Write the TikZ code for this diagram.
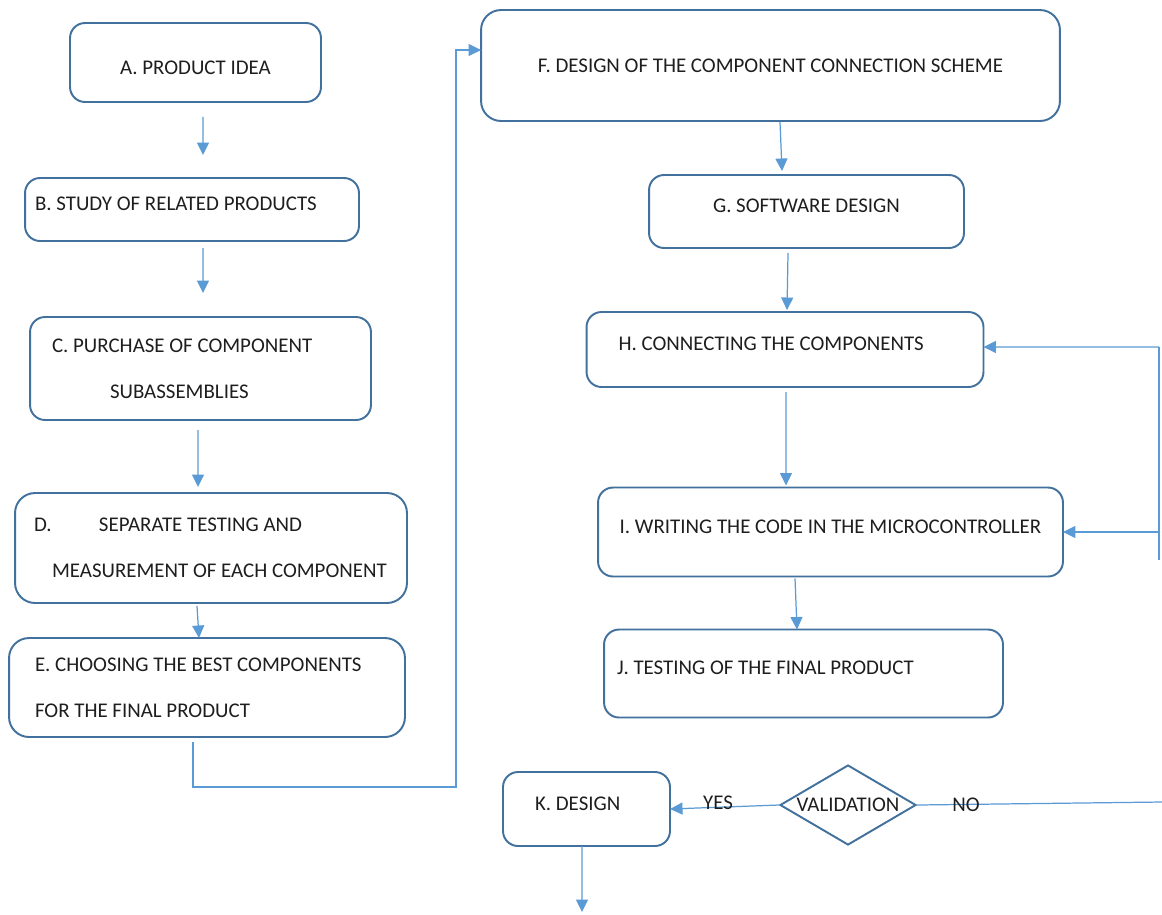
\documentclass[tikz,border=0pt]{standalone}
\usepackage{fontspec}
\setmainfont{Carlito}
\usepackage{xcolor}
\usetikzlibrary{arrows.meta}
\usetikzlibrary{shapes.geometric}

\definecolor{boxblue}{RGB}{65,113,156}
\definecolor{flowblue}{RGB}{91,155,213}
\definecolor{inkgray}{RGB}{30,30,30}

\tikzset{
  stage/.style={draw=boxblue, line width=1.1pt, rounded corners=0.3cm, text=inkgray,
    font=\fontsize{11.9}{26}\selectfont, align=flush left, inner ysep=0pt, outer sep=0pt},
  lift/.style={text depth=0.22cm},
  sink/.style={text height=0.5cm},
  check/.style={diamond, draw=boxblue, line width=1.1pt, aspect=1.7, inner sep=0pt,
    minimum width=2.72cm, minimum height=1.6cm, text=inkgray, font=\fontsize{11.9}{14}\selectfont},
  flow/.style={draw=flowblue, line width=0.7pt, -{Triangle[length=0.25cm,width=0.24cm]}},
  link/.style={draw=flowblue, line width=0.7pt},
  tag/.style={text=inkgray, font=\fontsize{11.9}{14}\selectfont}
}

\begin{document}
\begin{tikzpicture}[x=0.02cm, y=-0.02cm]
  \fill [white] (0,0) rectangle (1162,914);
  \useasboundingbox (0,0) rectangle (1162,914);

  % left column
  \node [stage, sink, minimum width=5.02cm, minimum height=1.58cm] (A) at (195.5,62.5) {A. PRODUCT IDEA};
  \node [stage, lift, minimum height=1.26cm, inner xsep=0.2cm, text width=6.28cm] (B) at (192,209.5) {B. STUDY OF RELATED PRODUCTS};
  \node [stage, minimum height=2.06cm, inner xsep=0.44cm, text width=5.94cm] (C) at (200.5,368.5)
    {C. PURCHASE OF COMPONENT\\\hspace*{1.16cm}SUBASSEMBLIES};
  \node [stage, rounded corners=0.4cm, minimum height=2.2cm, inner xsep=0.38cm, text width=7.08cm] (D) at (211,548)
    {\makebox[1.3cm][l]{D.}SEPARATE TESTING AND\\\hspace*{0.36cm}MEASUREMENT OF EACH COMPONENT};
  \node [stage, rounded corners=0.4cm, minimum height=1.98cm, inner xsep=0.52cm, text width=6.88cm] (E) at (207,687.5)
    {E. CHOOSING THE BEST COMPONENTS\\FOR THE FINAL PRODUCT};

  % right column
  \node [stage, rounded corners=0.4cm, minimum width=11.58cm, minimum height=2.22cm] (F) at (770.5,65.5)
    {F. DESIGN OF THE COMPONENT CONNECTION SCHEME};
  \node [stage, lift, minimum width=6.3cm, minimum height=1.46cm] (G) at (806.5,211.5) {G. SOFTWARE DESIGN};
  \node [stage, lift, minimum height=1.5cm, inner xsep=0.64cm, text width=6.66cm] (H) at (785,349.5) {H. CONNECTING THE COMPONENTS};
  \node [stage, lift, minimum width=9.3cm, minimum height=1.78cm] (I) at (830.5,532) {I. WRITING THE CODE IN THE MICROCONTROLLER};
  \node [stage, lift, minimum height=1.76cm, inner xsep=0.26cm, text width=7.46cm] (J) at (803.5,673.5) {J. TESTING OF THE FINAL PRODUCT};
  \node [stage, lift, minimum height=1.48cm, inner xsep=0.64cm, text width=2.06cm] (K) at (586.5,809) {K. DESIGN};
  \node [check] (val) at (848,805) {VALIDATION};

  \coordinate (bend) at (456,787);
  \coordinate (looptop) at (1159,347);
  \coordinate (loopbot) at (1159,560);
  \coordinate (edge) at (1162,802);
  \coordinate (out) at (582,912);

  \draw [flow] ([xshift=0.15cm,yshift=-0.3cm]A.south) -- ([xshift=0.22cm,yshift=0.46cm]B.north);
  \draw [flow] ([xshift=0.22cm,yshift=-0.14cm]B.south) -- ([xshift=0.05cm,yshift=0.48cm]C.north);
  \draw [flow] ([xshift=-0.05cm,yshift=-0.2cm]C.south) -- ([xshift=-0.26cm,yshift=0.12cm]D.north);
  \draw [flow] ([xshift=-0.28cm,yshift=-0.06cm]D.south) -- ([xshift=-0.16cm]E.north);
  \draw [flow] ([xshift=-0.28cm,yshift=-0.1cm]E.south) |- (bend) |- ([yshift=0.31cm]F.west);

  \draw [flow] ([xshift=0.19cm,yshift=-0.02cm]F.south) -- ([xshift=-0.49cm,yshift=0.08cm]G.north);
  \draw [flow] ([xshift=-0.37cm,yshift=-0.1cm]G.south) -- ([xshift=0.04cm,yshift=0.04cm]H.north);
  \draw [flow] ([xshift=0.02cm,yshift=-0.1cm]H.south) -- ([xshift=-0.89cm,yshift=0.04cm]I.north);
  \draw [flow] ([xshift=-0.71cm,yshift=-0.04cm]I.south) -- ([xshift=-0.13cm]J.north);

  \draw [link] (loopbot) -- (looptop);
  \draw [flow] (looptop) -- ([yshift=0.05cm]H.east);
  \draw [flow] (looptop |- I.east) -- (I.east);

  \draw [flow] (val.west) -- (K.east) node [tag, pos=0.56, yshift=0.08cm] {YES};
  \draw [link] (val.east) -- (edge) node [tag, pos=0.2] {NO};
  \draw [flow] ([xshift=-0.09cm]K.south) -- (out);
\end{tikzpicture}
\end{document}
